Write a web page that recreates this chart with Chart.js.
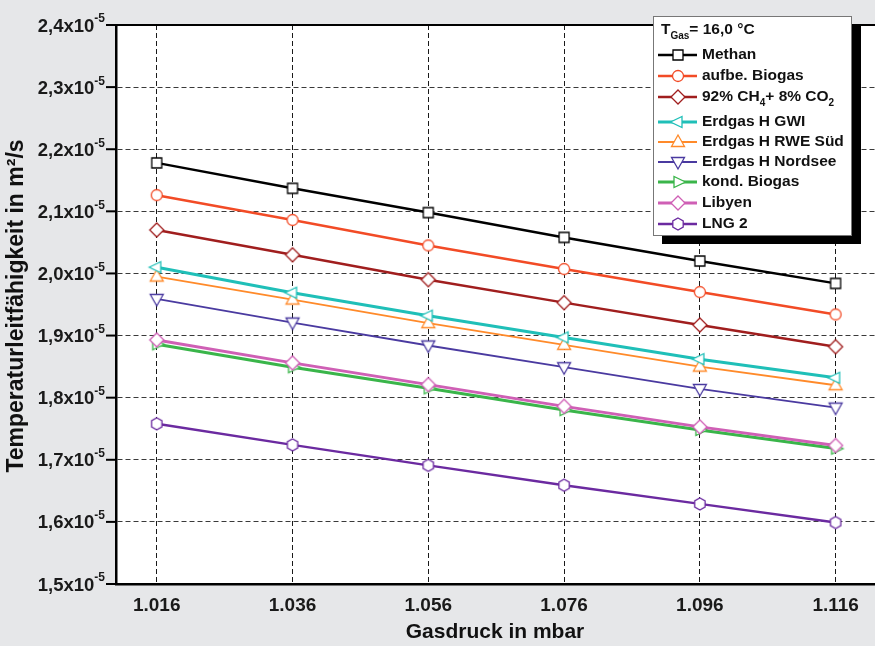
<!DOCTYPE html>
<html><head><meta charset="utf-8">
<script src="https://cdn.jsdelivr.net/npm/chart.js@4/dist/chart.umd.min.js"></script>
<style>html,body{margin:0;padding:0;background:#e6e7e9;overflow:hidden}canvas{display:block}</style>
</head><body><canvas id="c" width="875" height="646"></canvas>
<script>
// Gas pressure (mbar) and diffusivity values (units of 1e-5 m²/s)
const pressures = [1.016, 1.036, 1.056, 1.076, 1.096, 1.116];
const xTickLabels = ['1.016', '1.036', '1.056', '1.076', '1.096', '1.116'];
const yTicks = [1.5, 1.6, 1.7, 1.8, 1.9, 2.0, 2.1, 2.2, 2.3, 2.4];
const yTickLabels = ['1,5x10^{-5}', '1,6x10^{-5}', '1,7x10^{-5}', '1,8x10^{-5}', '1,9x10^{-5}',
                     '2,0x10^{-5}', '2,1x10^{-5}', '2,2x10^{-5}', '2,3x10^{-5}', '2,4x10^{-5}'];
const seriesNames = ['Methan', 'aufbe. Biogas', '92% CH_{4}+ 8% CO_{2}', 'Erdgas H GWI', 'Erdgas H RWE Süd',
                     'Erdgas H Nordsee', 'kond. Biogas', 'Libyen', 'LNG 2'];
const legendTitle = 'T_{Gas}= 16,0 °C';
const xTitle = 'Gasdruck in mbar';
const yTitle = 'Temperaturleitfähigkeit in m²/s';

const methan        = [2.178, 2.137, 2.098, 2.058, 2.020, 1.984];
const aufbeBiogas   = [2.126, 2.086, 2.045, 2.007, 1.970, 1.934];
const ch4co2        = [2.070, 2.030, 1.990, 1.953, 1.917, 1.882];
const erdgasGWI     = [2.010, 1.969, 1.932, 1.897, 1.862, 1.832];
const erdgasRWE     = [1.995, 1.958, 1.920, 1.885, 1.850, 1.820];
const erdgasNordsee = [1.959, 1.921, 1.884, 1.849, 1.814, 1.784];
const kondBiogas    = [1.886, 1.849, 1.815, 1.780, 1.748, 1.718];
const libyen        = [1.893, 1.856, 1.821, 1.786, 1.753, 1.723];
const lng2          = [1.758, 1.724, 1.691, 1.659, 1.629, 1.599];

const seriesValues = [methan, aufbeBiogas, ch4co2, erdgasGWI, erdgasRWE, erdgasNordsee, kondBiogas, libyen, lng2];
const seriesColors = ['#000000', '#f24b26', '#a01e1e', '#1fbfb8', '#ff8a2a', '#4a3aa0', '#3ab54a', '#cf5fb5', '#6b2aa0'];
const seriesShapes = ['square', 'circle', 'diamond', 'triLeft', 'triUp', 'triDown', 'triRight', 'diamond', 'hexagon'];
const seriesWidths = [2.5, 2.5, 2.5, 3, 1.8, 1.8, 3, 3, 2.5];

const FONT = '"Liberation Sans", Arial, Helvetica, sans-serif';

function makeMarker(shape, color) {
  const s = 20, c = document.createElement('canvas');
  c.width = s; c.height = s;
  const g = c.getContext('2d');
  g.translate(s / 2, s / 2);
  g.beginPath();
  switch (shape) {
    case 'square': g.rect(-5, -5, 10, 10); break;
    case 'circle': g.arc(0, 0, 5.5, 0, Math.PI * 2); break;
    case 'diamond': g.moveTo(0, -7); g.lineTo(7, 0); g.lineTo(0, 7); g.lineTo(-7, 0); break;
    case 'triLeft': g.moveTo(-7.5, 0); g.lineTo(4, -5.5); g.lineTo(4, 5.5); break;
    case 'triRight': g.moveTo(7.5, 0); g.lineTo(-4, -5.5); g.lineTo(-4, 5.5); break;
    case 'triUp': g.moveTo(0, -7); g.lineTo(6.5, 4.5); g.lineTo(-6.5, 4.5); break;
    case 'triDown': g.moveTo(0, 7); g.lineTo(6.5, -4.5); g.lineTo(-6.5, -4.5); break;
    case 'hexagon':
      for (let k = 0; k < 6; k++) {
        const a = (-90 + 60 * k) * Math.PI / 180;
        const px = 6 * Math.cos(a), py = 6 * Math.sin(a);
        if (k === 0) g.moveTo(px, py); else g.lineTo(px, py);
      }
      break;
  }
  g.closePath();
  g.fillStyle = '#fff'; g.fill();
  g.lineWidth = 1.3; g.strokeStyle = color; g.stroke();
  return c;
}

function parseRich(s) {
  const segs = []; const re = /([_^])\{([^}]*)\}/g; let last = 0, m;
  while ((m = re.exec(s))) {
    if (m.index > last) segs.push({t: s.slice(last, m.index), mode: 'n'});
    segs.push({t: m[2], mode: m[1] === '_' ? 'sub' : 'sup'});
    last = re.lastIndex;
  }
  if (last < s.length) segs.push({t: s.slice(last), mode: 'n'});
  return segs;
}
function drawRich(ctx, s, x, y, size, align, color) {
  const segs = parseRich(s);
  const small = Math.round(size * 0.64);
  let total = 0;
  segs.forEach(sg => {
    ctx.font = 'bold ' + (sg.mode === 'n' ? size : small) + 'px ' + FONT;
    sg.w = ctx.measureText(sg.t).width; total += sg.w;
  });
  let cx = align === 'right' ? x - total : align === 'center' ? x - total / 2 : x;
  ctx.textAlign = 'left'; ctx.textBaseline = 'middle'; ctx.fillStyle = color || '#111';
  segs.forEach(sg => {
    ctx.font = 'bold ' + (sg.mode === 'n' ? size : small) + 'px ' + FONT;
    const dy = sg.mode === 'sub' ? size * 0.42 : sg.mode === 'sup' ? -size * 0.4 : 0;
    ctx.fillText(sg.t, cx, y + dy);
    cx += sg.w;
  });
}

const markers = seriesShapes.map((sh, i) => makeMarker(sh, seriesColors[i]));

const datasets = seriesNames.map((name, i) => ({
  label: name,
  data: seriesValues[i].map((v, k) => ({x: pressures[k], y: v})),
  borderColor: seriesColors[i],
  backgroundColor: '#fff',
  borderWidth: seriesWidths[i],
  pointStyle: markers[i],
  pointRadius: 6,
  pointHoverRadius: 6,
  tension: 0,
  fill: false,
  order: name === 'Libyen' ? -1 : i
}));

const decorPlugin = {
  id: 'decor',
  beforeDraw(chart) {
    const {ctx, chartArea: a} = chart;
    ctx.save();
    ctx.fillStyle = '#ffffff';
    ctx.fillRect(a.left, a.top, a.right - a.left, a.bottom - a.top);
    ctx.restore();
  },
  afterDraw(chart) {
    const {ctx, chartArea: a, scales: {x, y}} = chart;
    ctx.save();
    // top frame line
    ctx.strokeStyle = '#000'; ctx.lineWidth = 2;
    ctx.beginPath(); ctx.moveTo(a.left - 8, a.top); ctx.lineTo(a.right, a.top); ctx.stroke();
    // y tick marks (outward) and labels
    yTicks.forEach((v, i) => {
      const py = y.getPixelForValue(v);
      ctx.strokeStyle = '#000'; ctx.lineWidth = 2;
      ctx.beginPath(); ctx.moveTo(a.left - 10, py); ctx.lineTo(a.left, py); ctx.stroke();
      drawRich(ctx, yTickLabels[i], a.left - 11, py + 1.5, 18.5, 'right', '#1a1a1a');
    });
    // x tick labels
    pressures.forEach((v, i) => {
      const px = x.getPixelForValue(v);
      drawRich(ctx, xTickLabels[i], px, 606, 19, 'center', '#1a1a1a');
    });
    // axis titles
    drawRich(ctx, xTitle, 495, 632, 21, 'center', '#111');
    ctx.save();
    ctx.translate(17, 306); ctx.rotate(-Math.PI / 2);
    drawRich(ctx, yTitle, 0, 0, 23, 'center', '#111');
    ctx.restore();
    // legend
    const bx = 653, by = 16, bw = 199, bh = 220;
    ctx.fillStyle = '#000'; ctx.fillRect(bx + 9, by + 8, bw, bh);
    ctx.fillStyle = '#fff'; ctx.fillRect(bx, by, bw, bh);
    ctx.strokeStyle = '#777'; ctx.lineWidth = 1; ctx.strokeRect(bx + 0.5, by + 0.5, bw - 1, bh - 1);
    drawRich(ctx, legendTitle, 661, 30, 15.5, 'left', '#111');
    const rowY = [55, 76, 97, 122, 142, 162, 182, 203, 224];
    chart.data.datasets.forEach((ds, i) => {
      const ry = rowY[i];
      ctx.strokeStyle = ds.borderColor; ctx.lineWidth = ds.borderWidth;
      ctx.beginPath(); ctx.moveTo(658, ry); ctx.lineTo(697, ry); ctx.stroke();
      ctx.drawImage(ds.pointStyle, 678 - 10, ry - 10);
      drawRich(ctx, ds.label, 702, ry, 15.5, 'left', '#111');
    });
    ctx.restore();
  }
};

new Chart(document.getElementById('c'), {
  type: 'line',
  data: {datasets},
  options: {
    responsive: false,
    devicePixelRatio: 1,
    animation: false,
    events: [],
    layout: {autoPadding: false, padding: {left: 116, top: 25, right: 0, bottom: 62}},
    plugins: {legend: {display: false}, tooltip: {enabled: false}},
    scales: {
      x: {
        type: 'linear', min: 1.010, max: 1.1218, z: 1,
        afterBuildTicks: s => { s.ticks = pressures.map(v => ({value: v})); },
        ticks: {display: false},
        grid: {color: '#1a1a1a', lineWidth: 1, drawTicks: false},
        border: {display: true, color: '#000', width: 2.5, dash: [5, 3]}
      },
      y: {
        type: 'linear', min: 1.5, max: 2.4, z: 1,
        afterBuildTicks: s => { s.ticks = yTicks.map(v => ({value: v})); },
        ticks: {display: false},
        grid: {color: '#3a3a3a', lineWidth: 1, drawTicks: false},
        border: {display: true, color: '#000', width: 2.5, dash: [5, 3]}
      }
    }
  },
  plugins: [decorPlugin]
});
</script>
</body></html>
